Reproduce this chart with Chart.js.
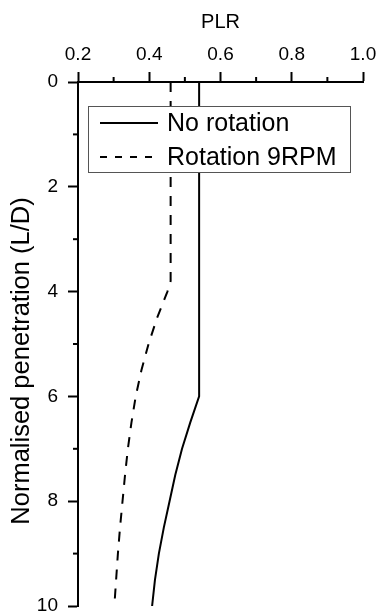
<!DOCTYPE html>
<html>
<head>
<meta charset="utf-8">
<script src="https://cdn.jsdelivr.net/npm/chart.js@4"></script>
<style>
  html, body { margin: 0; padding: 0; background: #fff; }
  #wrap { width: 379px; height: 613px; }
</style>
</head>
<body>
<div id="wrap"><canvas id="grafico"></canvas></div>
<script>
// depth (L/D) and PLR
const profundidade = [0, 6, 6.5, 7, 7.5, 8, 8.5, 9, 9.5, 10];
const semRotacao = [0.54, 0.54, 0.515, 0.492, 0.473, 0.457, 0.441, 0.427, 0.416, 0.408];

const profundidadeRot = [0, 3.8, 4, 4.5, 5, 5.5, 6, 6.5, 7, 7.5, 8, 8.5, 9, 9.5, 10];
const comRotacao = [0.46, 0.46, 0.451, 0.422, 0.398, 0.378, 0.362, 0.35, 0.34, 0.332, 0.325, 0.318, 0.312, 0.307, 0.302];

const ticksX = [0.2, 0.4, 0.6, 0.8, 1.0];
const ticksY = [0, 2, 4, 6, 8, 10];
const menoresX = [0.3, 0.5, 0.7, 0.9];
const menoresY = [1, 3, 5, 7, 9];

const nomes = ["No rotation", "Rotation 9RPM"];

const fonte = "Arial, 'Liberation Sans', sans-serif";

function pontos(xs, ys) {
  return xs.map((x, i) => ({ x: x, y: ys[i] }));
}

// minor ticks, y title and the legend box
const extras = {
  id: "extras",
  afterDatasetsDraw(chart) {
    const ctx = chart.ctx;
    const sx = chart.scales.x;
    const sy = chart.scales.y;
    const area = chart.chartArea;
    ctx.save();
    ctx.strokeStyle = "#000";
    ctx.lineWidth = 2;
    menoresX.forEach((v) => {
      const px = sx.getPixelForValue(v);
      ctx.beginPath();
      ctx.moveTo(px, area.top);
      ctx.lineTo(px, area.top - 5);
      ctx.stroke();
    });
    menoresY.forEach((v) => {
      const py = sy.getPixelForValue(v);
      ctx.beginPath();
      ctx.moveTo(area.left, py);
      ctx.lineTo(area.left - 5, py);
      ctx.stroke();
    });

    // y title
    ctx.fillStyle = "#000";
    ctx.font = "25.5px " + fonte;
    ctx.textAlign = "center";
    ctx.textBaseline = "middle";
    ctx.translate(22, 361);
    ctx.rotate(-Math.PI / 2);
    ctx.fillText("Normalised penetration (L/D)", 0, 0);
    ctx.restore();

    // legend
    ctx.save();
    const bx = 88, by = 106, bw = 262, bh = 66;
    ctx.fillStyle = "#fff";
    ctx.fillRect(bx, by, bw, bh);
    ctx.strokeStyle = "#555";
    ctx.lineWidth = 1;
    ctx.strokeRect(bx + 0.5, by + 0.5, bw, bh);
    ctx.font = "25px " + fonte;
    ctx.textAlign = "left";
    ctx.textBaseline = "middle";
    ctx.fillStyle = "#000";
    const linhas = [123, 157];
    const tracos = [[], [7, 8]];
    chart.data.datasets.forEach((ds, i) => {
      const yy = linhas[i];
      ctx.strokeStyle = "#000";
      ctx.lineWidth = 2;
      ctx.setLineDash(tracos[i]);
      ctx.beginPath();
      ctx.moveTo(100, yy);
      ctx.lineTo(158, yy);
      ctx.stroke();
      ctx.setLineDash([]);
      ctx.fillText(ds.label, 167, yy + 1);
    });
    ctx.restore();
  },
};

const grafico = new Chart(document.getElementById("grafico"), {
  type: "scatter",
  data: {
    datasets: [
      {
        label: nomes[0],
        data: pontos(semRotacao, profundidade),
        showLine: true,
        borderColor: "#000",
        borderWidth: 2,
        pointRadius: 0,
        tension: 0,
      },
      {
        label: nomes[1],
        data: pontos(comRotacao, profundidadeRot),
        showLine: true,
        borderColor: "#000",
        borderWidth: 2,
        borderDash: [10, 9],
        pointRadius: 0,
        tension: 0,
      },
    ],
  },
  options: {
    responsive: true,
    maintainAspectRatio: false,
    animation: false,
    layout: { padding: { left: 0, right: 16, top: 0, bottom: 7 } },
    plugins: {
      legend: { display: false },
      tooltip: { enabled: false },
    },
    scales: {
      x: {
        type: "linear",
        position: "top",
        min: 0.2,
        max: 1.0,
        afterBuildTicks: (s) => { s.ticks = ticksX.map((v) => ({ value: v })); },
        afterFit: (s) => { s.height = 82; s.paddingLeft = 0; s.paddingRight = 0; },
        ticks: {
          color: "#000",
          font: { family: fonte, size: 19 },
          padding: 6,
          callback: (v) => v.toFixed(1),
        },
        grid: {
          drawOnChartArea: false,
          tickLength: 10,
          tickColor: "#000",
          tickWidth: 2,
        },
        border: { color: "#000", width: 2 },
        title: {
          display: true,
          text: "PLR",
          color: "#000",
          font: { family: fonte, size: 20 },
          padding: { top: 10, bottom: 0 },
        },
      },
      y: {
        type: "linear",
        reverse: true,
        min: 0,
        max: 10,
        afterBuildTicks: (s) => { s.ticks = ticksY.map((v) => ({ value: v })); },
        afterFit: (s) => { s.width = 78; s.paddingTop = 0; s.paddingBottom = 0; },
        ticks: {
          color: "#000",
          font: { family: fonte, size: 19 },
          padding: 10,
        },
        grid: {
          drawOnChartArea: false,
          tickLength: 10,
          tickColor: "#000",
          tickWidth: 2,
        },
        border: { color: "#000", width: 2 },
      },
    },
  },
  plugins: [extras],
});
</script>
</body>
</html>
